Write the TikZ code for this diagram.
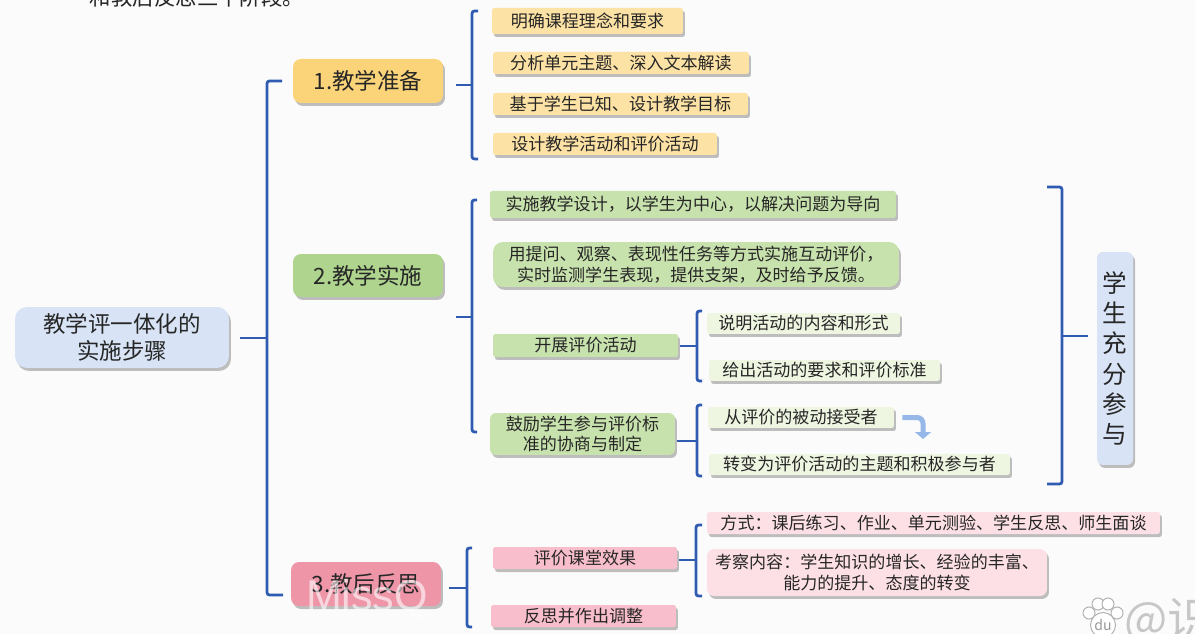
\documentclass[tikz,border=0pt]{standalone}
\usepackage{fontspec}
\usepackage{xcolor}
\setmainfont{Noto Sans CJK SC}
\newfontfamily\markfont{Liberation Sans}
\usetikzlibrary{shapes,arrows.meta,positioning,calc,shadows}
\definecolor{linkblue}{RGB}{47,91,176}
\definecolor{turnblue}{RGB}{150,184,232}
\definecolor{rootblue}{RGB}{216,228,245}
\definecolor{stepyellow}{RGB}{251,212,122}
\definecolor{stepgreen}{RGB}{174,212,142}
\definecolor{steppink}{RGB}{238,150,168}
\definecolor{leafyellow}{RGB}{253,226,165}
\definecolor{leafgreen}{RGB}{200,226,173}
\definecolor{leafpale}{RGB}{238,246,226}
\definecolor{leafpink}{RGB}{249,190,203}
\definecolor{leafrose}{RGB}{253,224,229}
\tikzset{
	boxbase/.style={rectangle, inner sep=0pt, align=center, text=black!85, drop shadow={shadow xshift=.04cm, shadow yshift=-.06cm, opacity=.5}},
	rootnode/.style={boxbase, fill=rootblue, rounded corners=.24cm, font=\fontsize{12.8}{15.3}\selectfont},
	stepnode/.style={boxbase, rounded corners=.16cm, font=\fontsize{12.8}{15.3}\selectfont},
	leafnode/.style={boxbase, rounded corners=.05cm, font=\fontsize{9.7}{11.9}\selectfont},
	link/.style={draw=linkblue, line width=.056cm, rounded corners=.05cm},
	turnarrow/.style={draw=turnblue, line width=.1cm, rounded corners=.12cm, -{Triangle[width=.32cm, length=.14cm]}},
	pawpart/.style={draw=black!30, fill=white, line width=.02cm}
}
\begin{document}
\begin{tikzpicture}[x=0.02cm, y=-0.02cm]
	\useasboundingbox (0,0) rectangle (1195,634);
	\clip (0,0) rectangle (1195,634);
	\fill[white!98.5!black] (0,0) rectangle (1195,634);
	\node[font=\fontsize{12.2}{14}\selectfont, text=black!85] (intro) at (197,-3) {和教后反思三个阶段。};

	% Root
	\node[rootnode, minimum width=4.28cm, minimum height=1.22cm] (root) at (122,337.5) {教学评一体化的\\实施步骤};

	% Three stages
	\node[stepnode, fill=stepyellow, minimum width=3cm, minimum height=.88cm] (prep) at (368,81) {1.教学准备};
	\node[stepnode, fill=stepgreen, minimum width=3cm, minimum height=.86cm] (impl) at (368,275.5) {2.教学实施};
	\node[stepnode, fill=steppink, minimum width=3cm, minimum height=.88cm] (refl) at (366,584) {3.教后反思};

	% Stage 1
	\node[leafnode, fill=leafyellow, minimum width=3.82cm, minimum height=.52cm] (prep1) at (587.5,21) {明确课程理念和要求};
	\node[leafnode, fill=leafyellow, minimum width=5.12cm, minimum height=.44cm] (prep2) at (621,63) {分析单元主题、深入文本解读};
	\node[leafnode, fill=leafyellow, minimum width=5.1cm, minimum height=.44cm] (prep3) at (620.5,104) {基于学生已知、设计教学目标};
	\node[leafnode, fill=leafyellow, minimum width=4.48cm, minimum height=.44cm] (prep4) at (605,144) {设计教学活动和评价活动};

	% Stage 2
	\node[leafnode, fill=leafgreen, minimum width=8.12cm, minimum height=.54cm] (impl1) at (693,204.5) {实施教学设计，以学生为中心，以解决问题为导向};
	\node[leafnode, fill=leafgreen, rounded corners=.2cm, minimum width=8.12cm, minimum height=.9cm] (impl2) at (696,264.5) {用提问、观察、表现性任务等方式实施互动评价，\\实时监测学生表现，提供支架，及时给予反馈。};
	\node[leafnode, fill=leafgreen, minimum width=3.7cm, minimum height=.46cm] (impl3) at (585.5,345.5) {开展评价活动};
	\node[leafnode, fill=leafgreen, rounded corners=.12cm, minimum width=3.7cm, minimum height=.84cm] (impl4) at (582.5,434) {鼓励学生参与评价标\\准的协商与制定};
	\node[leafnode, fill=leafpale, minimum width=3.86cm, minimum height=.42cm] (act1) at (803.5,323.5) {说明活动的内容和形式};
	\node[leafnode, fill=leafpale, minimum width=4.62cm, minimum height=.42cm] (act2) at (824.5,370.5) {给出活动的要求和评价标准};
	\node[leafnode, fill=leafpale, minimum width=3.72cm, minimum height=.42cm] (role1) at (801,417.5) {从评价的被动接受者};
	\node[leafnode, fill=leafpale, minimum width=6.02cm, minimum height=.42cm] (role2) at (859.5,464.5) {转变为评价活动的主题和积极参与者};

	% Stage 3
	\node[leafnode, fill=leafpink, minimum width=3.68cm, minimum height=.44cm] (refl1) at (585,558) {评价课堂效果};
	\node[leafnode, fill=leafpink, minimum width=3.7cm, minimum height=.44cm] (refl2) at (583.5,616) {反思并作出调整};
	\node[leafnode, fill=leafrose, minimum width=9.06cm, minimum height=.44cm] (way) at (933.5,523) {方式：课后练习、作业、单元测验、学生反思、师生面谈};
	\node[leafnode, fill=leafrose, rounded corners=.14cm, minimum width=6.8cm, minimum height=.94cm] (look) at (877,572.5) {考察内容：学生知识的增长、经验的丰富、\\能力的提升、态度的转变};

	% Student side
	\node[rootnode, rounded corners=.12cm, font=\fontsize{14}{17.2}\selectfont, minimum width=.72cm, minimum height=4.26cm] (student) at (1115,358.5) {学\\生\\充\\分\\参\\与};

	% Forks
	\coordinate (rootf) at (267,338);
	\coordinate (roott) at (282,81);
	\coordinate (rootb) at (283,595);
	\coordinate (prepf) at (472,85);
	\coordinate (prept) at (478,11);
	\coordinate (prepb) at (478,159);
	\coordinate (implf) at (472,317);
	\coordinate (implt) at (477,200);
	\coordinate (implb) at (477,432);
	\coordinate (actf) at (697,346);
	\coordinate (actt) at (702,311);
	\coordinate (actb) at (702,381);
	\coordinate (rolef) at (697,441);
	\coordinate (rolet) at (702,405);
	\coordinate (roleb) at (702,476);
	\coordinate (reflf) at (467,588);
	\coordinate (reflt) at (472,548);
	\coordinate (reflb) at (472,627);
	\coordinate (evalf) at (696,560);
	\coordinate (evalt) at (702,525);
	\coordinate (evalb) at (702,596);
	\coordinate (studf) at (1062,336);
	\coordinate (studt) at (1047,187);
	\coordinate (studb) at (1047,484);
	\coordinate (turnto) at (923,439);

	% Connections
	\draw[link, shorten <=.22cm] (root.east |- rootf) -- (rootf);
	\draw[link] (roott) -| (rootf) |- (rootb);
	\draw[link, shorten <=.26cm] (prep.east |- prepf) -- (prepf);
	\draw[link] (prept) -| (prepf) |- (prepb);
	\draw[link, shorten <=.26cm] (impl.east |- implf) -- (implf);
	\draw[link] (implt) -| (implf) |- (implb);
	\draw[link, shorten <=.04cm] (impl3.east |- actf) -- (actf);
	\draw[link] (actt) -| (actf) |- (actb);
	\draw[link, shorten <=.04cm] (impl4.east |- rolef) -- (rolef);
	\draw[link] (rolet) -| (rolef) |- (roleb);
	\draw[link, shorten <=.16cm] (refl.east |- reflf) -- (reflf);
	\draw[link] (reflt) -| (reflf) |- (reflb);
	\draw[link, shorten <=.04cm] (refl1.east |- evalf) -- (evalf);
	\draw[link] (evalt) -| (evalf) |- (evalb);
	\draw[link, shorten <=.18cm] (student.west |- studf) -- (studf);
	\draw[link] (studt) -| (studf) |- (studb);
	\draw[turnarrow, shorten <=.16cm] (role1.east) -| (turnto);

	% Watermark
	\node[font=\markfont\fontsize{24.5}{26}\selectfont, text=white, opacity=.6] (miss) at (367,599) {MissQ};
	\foreach \px/\py in {1089/613, 1098/604, 1108/604, 1117/613}
		\draw[pawpart] (\px,\py) circle[radius=6];
	\node[pawpart, circle, inner sep=0pt, minimum size=.5cm, text=black!40, font=\fontsize{8}{9}\selectfont] (paw) at (1103,625) {du};
	\node[font=\fontsize{26}{28}\selectfont, text=black!22] (mark) at (1169,621) {@识};
\end{tikzpicture}
\end{document}
